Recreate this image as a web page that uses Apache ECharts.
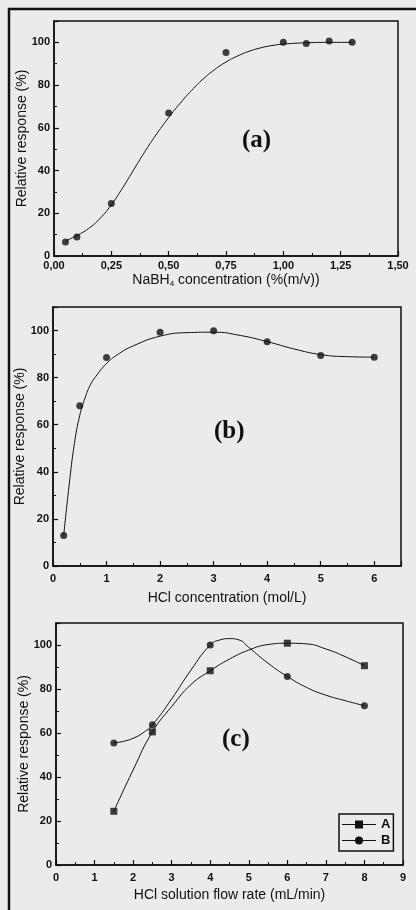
<!DOCTYPE html>
<html>
<head>
<meta charset="utf-8">
<script src="https://cdn.jsdelivr.net/npm/echarts@6/dist/echarts.min.js"></script>
<style>
  html, body {margin: 0; padding: 0; background: #ebebeb;}
  #main {width: 416px; height: 910px;}
</style>
</head>
<body>
<div id="main"></div>
<script>
// (a) NaBH4 concentration
const naX = [0.05, 0.1, 0.25, 0.5, 0.75, 1.0, 1.1, 1.2, 1.3];
const naY = [6.6, 8.9, 24.6, 66.9, 95.3, 100, 99.5, 100.6, 100];
// fitted curve
const naFitX = [0.05, 0.1, 0.15, 0.2, 0.25, 0.3, 0.35, 0.4, 0.45, 0.5, 0.55, 0.6, 0.65, 0.7, 0.75, 0.8, 0.85, 0.9, 0.95, 1.0, 1.1, 1.2, 1.3];
const naFitY = [7, 9.6, 12.8, 17.5, 24, 32, 40.8, 49.5, 57.5, 64.8, 71.5, 77.5, 82.8, 87.2, 90.8, 93.6, 95.8, 97.4, 98.5, 99.2, 99.8, 100, 100];

// (b) HCl concentration
const hclX = [0.2, 0.5, 1, 2, 3, 4, 5, 6];
const hclY = [13, 68.1, 88.6, 99.3, 99.9, 95.2, 89.4, 88.7];
const hclFitX = [0.2, 0.3, 0.4, 0.5, 0.6, 0.7, 0.8, 1.0, 1.2, 1.5, 2.0, 2.5, 3.0, 3.5, 4.0, 4.5, 5.0, 5.5, 6.0];
const hclFitY = [13, 34, 52, 64, 71.5, 77, 80.5, 86, 89.7, 93.5, 97.6, 99.1, 99.3, 97.9, 95.3, 92.2, 89.8, 88.9, 88.7];

// (c) HCl solution flow rate, measured points
const flowX = [1.5, 2.5, 4, 6, 8];
const flowA = [24.4, 60.5, 88.3, 100.8, 90.6];
const flowB = [55.5, 63.7, 100, 85.7, 72.4];
// curves drawn through them
const curveAX = [1.5, 2, 2.5, 3, 3.5, 4, 4.5, 5, 5.5, 6, 6.5, 7, 7.5, 8];
const curveAY = [24.4, 43.2, 60.5, 72, 82, 88.3, 93.6, 97.7, 100.2, 100.8, 100.5, 98.2, 94.7, 90.6];
const curveBX = [1.5, 1.75, 2, 2.25, 2.5, 3, 3.5, 4, 4.25, 4.5, 4.75, 5, 5.5, 6, 6.5, 7, 7.5, 8];
const curveBY = [55.5, 56.2, 57.6, 60, 63.7, 75.5, 88.6, 100, 102.3, 102.9, 102.3, 98.9, 91.7, 85.7, 80.7, 77.2, 74.7, 72.4];

const yTicks = {min: 0, max: 110, interval: 20};

const font = "'Liberation Sans', Arial, sans-serif";
const ink = '#111';

function pairs(xs, ys) {
    return xs.map((x, i) => [x, ys[i]]);
}

function xAxis(idx, min, max, interval, name, nameGap, margin, fmt) {
    return {
        gridIndex: idx, type: 'value', min: min, max: max, interval: interval,
        name: name, nameLocation: 'middle', nameGap: nameGap, nameMoveOverlap: false,
        nameTextStyle: {
            color: ink, fontFamily: font, fontSize: 14,
            rich: {
                n: {fontSize: 14, fontFamily: font, color: ink},
                s: {fontSize: 8, fontFamily: font, color: ink, verticalAlign: 'bottom', padding: [8, 0, 0, 0]}
            }
        },
        axisLine: {lineStyle: {color: ink, width: 1.5}},
        axisTick: {inside: true, length: 5, lineStyle: {color: ink, width: 1.2}},
        minorTick: {show: true, splitNumber: 2, length: 3, lineStyle: {color: ink, width: 1}},
        axisLabel: {
            color: ink, fontFamily: font, fontSize: 11, fontWeight: 'bold', margin: margin,
            showMaxLabel: fmt ? true : false,
            formatter: fmt || (v => String(v))
        },
        splitLine: {show: false}
    };
}

function yAxis(idx, nameGap) {
    return {
        gridIndex: idx, type: 'value', min: yTicks.min, max: yTicks.max, interval: yTicks.interval,
        name: 'Relative response (%)', nameLocation: 'middle', nameGap: nameGap, nameMoveOverlap: false,
        nameTextStyle: {color: ink, fontFamily: font, fontSize: 14},
        axisLine: {show: true, lineStyle: {color: ink, width: 1.5}},
        axisTick: {inside: true, length: 5, lineStyle: {color: ink, width: 1.2}},
        minorTick: {show: true, splitNumber: 2, length: 3, lineStyle: {color: ink, width: 1}},
        axisLabel: {color: ink, fontFamily: font, fontSize: 11, fontWeight: 'bold', margin: 4, showMaxLabel: false},
        splitLine: {show: false}
    };
}

const gridStyle = {show: true, borderColor: ink, borderWidth: 1.5, backgroundColor: 'transparent'};

// legend keys: a line with the marker sitting on it
const iconA = 'path://M0,3.5H34V4.5H0Z M13,0H21V8H13Z';
const iconB = 'path://M0,3.5H34V4.5H0Z M17,0A4,4 0 1,1 17,8A4,4 0 1,1 17,0Z';

const chart = echarts.init(document.getElementById('main'));

const option = {
    backgroundColor: '#ebebeb',
    animation: false,
    grid: [
        Object.assign({left: 54, top: 21, width: 344, height: 235}, gridStyle),
        Object.assign({left: 53, top: 307, width: 348, height: 259}, gridStyle),
        Object.assign({left: 56, top: 623, width: 347, height: 242}, gridStyle)
    ],
    xAxis: [
        xAxis(0, 0, 1.5, 0.25, '{n|NaBH}{s|4}{n| concentration (%(m/v))}', 16, 4,
            v => v.toFixed(2).replace('.', ',')),
        xAxis(1, 0, 6.5, 1, 'HCl concentration (mol/L)', 25, 7),
        xAxis(2, 0, 9, 1, 'HCl solution flow rate (mL/min)', 23, 7, v => String(v))
    ],
    yAxis: [yAxis(0, 25), yAxis(1, 26), yAxis(2, 25)],
    legend: {
        data: [{name: 'A', icon: iconA}, {name: 'B', icon: iconB}],
        orient: 'vertical',
        left: 339, top: 814,
        padding: [4, 3, 4, 3],
        itemGap: 3,
        itemWidth: 34, itemHeight: 8,
        borderColor: ink, borderWidth: 1.5,
        textStyle: {color: ink, fontFamily: font, fontSize: 13, fontWeight: 'bold'}
    },
    series: [
        {
            type: 'line', xAxisIndex: 0, yAxisIndex: 0, data: pairs(naFitX, naFitY),
            smooth: true, showSymbol: false, lineStyle: {color: ink, width: 1}, silent: true
        },
        {
            type: 'scatter', xAxisIndex: 0, yAxisIndex: 0, data: pairs(naX, naY),
            symbol: 'circle', symbolSize: 7, itemStyle: {color: ink}
        },
        {
            type: 'line', xAxisIndex: 1, yAxisIndex: 1, data: pairs(hclFitX, hclFitY),
            smooth: true, showSymbol: false, lineStyle: {color: ink, width: 1}, silent: true
        },
        {
            type: 'scatter', xAxisIndex: 1, yAxisIndex: 1, data: pairs(hclX, hclY),
            symbol: 'circle', symbolSize: 7, itemStyle: {color: ink}
        },
        {
            name: 'A', type: 'line', xAxisIndex: 2, yAxisIndex: 2, data: pairs(curveAX, curveAY),
            smooth: true, showSymbol: false, itemStyle: {color: ink}, lineStyle: {color: ink, width: 1}
        },
        {
            name: 'B', type: 'line', xAxisIndex: 2, yAxisIndex: 2, data: pairs(curveBX, curveBY),
            smooth: true, showSymbol: false, itemStyle: {color: ink}, lineStyle: {color: ink, width: 1}
        },
        {
            name: 'A', type: 'scatter', xAxisIndex: 2, yAxisIndex: 2, data: pairs(flowX, flowA),
            symbol: 'rect', symbolSize: 7, itemStyle: {color: ink}
        },
        {
            name: 'B', type: 'scatter', xAxisIndex: 2, yAxisIndex: 2, data: pairs(flowX, flowB),
            symbol: 'circle', symbolSize: 7, itemStyle: {color: ink}
        }
    ],
    graphic: [
        // page frame from the scan
        {type: 'line', shape: {x1: 8, y1: 9, x2: 416, y2: 9}, style: {stroke: ink, lineWidth: 2.5}},
        {type: 'line', shape: {x1: 9, y1: 8, x2: 9, y2: 910}, style: {stroke: ink, lineWidth: 2.5}},
        {type: 'text', left: 242, top: 128, style: {text: '(a)', font: "bold 25px 'Liberation Serif', serif", fill: ink}},
        {type: 'text', left: 214, top: 419, style: {text: '(b)', font: "bold 25px 'Liberation Serif', serif", fill: ink}},
        {type: 'text', left: 222, top: 727, style: {text: '(c)', font: "bold 25px 'Liberation Serif', serif", fill: ink}}
    ]
};

chart.setOption(option);
</script>
</body>
</html>
